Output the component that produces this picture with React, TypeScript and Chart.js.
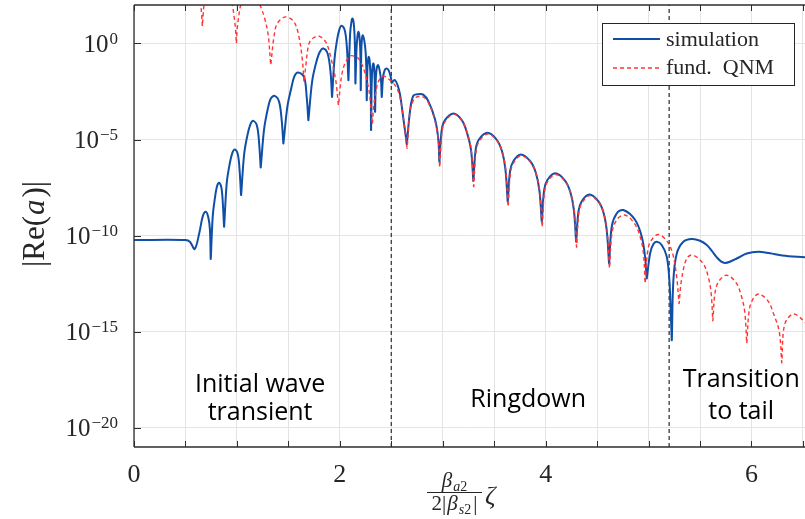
import React, { useEffect, useRef } from 'react';
import { Chart, registerables } from 'chart.js';

Chart.register(...registerables);

// ---------- data (x = scaled coordinate, values stored as log10 |Re(a)|) ----------
const simZeta = [
  0, 0.5, 0.545, 0.59, 0.635, 0.668, 0.697, 0.722, 0.738, 0.745, 0.746,
  0.765, 0.786, 0.806, 0.826, 0.85, 0.865, 0.875, 0.876,
  0.901, 0.928, 0.954, 0.98, 1.01, 1.028, 1.04, 1.041,
  1.07, 1.1, 1.13, 1.16, 1.196, 1.217, 1.231, 1.232,
  1.263, 1.296, 1.328, 1.367, 1.41, 1.435, 1.451, 1.452,
  1.49, 1.523, 1.558, 1.594, 1.652, 1.678, 1.694, 1.695,
  1.73, 1.767, 1.804, 1.84, 1.882, 1.91, 1.924, 1.925,
  1.948, 1.971, 1.995, 2.018, 2.05, 2.07, 2.083, 2.084,
  2.1, 2.112, 2.122, 2.135, 2.146, 2.151, 2.152,
  2.162, 2.171, 2.18, 2.19, 2.199, 2.203, 2.204,
  2.208, 2.214, 2.222, 2.236, 2.25, 2.258, 2.261, 2.262,
  2.268, 2.275, 2.281, 2.29, 2.3, 2.303, 2.304,
  2.31, 2.318, 2.326, 2.334, 2.34, 2.342, 2.343,
  2.35, 2.36, 2.371, 2.385, 2.4, 2.407, 2.408,
  2.42, 2.437, 2.455, 2.475, 2.495, 2.504, 2.505,
  2.52, 2.536, 2.56, 2.585, 2.617, 2.64, 2.65, 2.651,
  2.683, 2.714, 2.76, 2.81, 2.86, 2.925, 2.957, 2.967, 2.968,
  2.99, 3.022, 3.105, 3.185, 3.233, 3.275, 3.297, 3.298,
  3.32, 3.352, 3.434, 3.523, 3.576, 3.609, 3.631, 3.632,
  3.654, 3.686, 3.758, 3.85, 3.905, 3.94, 3.962, 3.963,
  3.985, 4.017, 4.092, 4.184, 4.239, 4.274, 4.296, 4.297,
  4.319, 4.351, 4.425, 4.511, 4.563, 4.594, 4.616, 4.617,
  4.642, 4.69, 4.755, 4.87, 4.934, 4.966, 4.982, 4.983,
  5.015, 5.047, 5.08, 5.128, 5.177, 5.202, 5.216, 5.225, 5.226,
  5.241, 5.274, 5.338, 5.42, 5.5, 5.566, 5.615, 5.663, 5.71, 5.743, 5.79, 5.857,
  5.954, 6.067, 6.18, 6.3, 6.52,
];
const simLog10 = [
  -10.23, -10.23, -10.33, -10.7, -9.85, -9.0, -8.76, -9.05, -9.7, -11.22, -11.22,
  -9.0, -8.05, -7.45, -7.25, -7.53, -8.5, -9.54, -9.54,
  -7.27, -6.32, -5.72, -5.52, -5.8, -6.77, -7.89, -7.89,
  -5.78, -4.83, -4.23, -4.03, -4.31, -5.28, -6.45, -6.45,
  -4.51, -3.5, -2.88, -2.73, -3.04, -3.99, -5.2, -5.2,
  -3.3, -2.45, -1.72, -1.51, -1.74, -2.78, -3.99, -3.99,
  -2.01, -1.06, -0.46, -0.26, -0.54, -1.51, -2.78, -2.78,
  -0.83, 0.12, 0.72, 0.92, 0.64, -0.33, -1.91, -1.91,
  0.5, 1.1, 1.3, 1.05, 0.0, -2.08, -2.08,
  -0.3, 0.35, 0.6, 0.4, -0.4, -2.43, -2.43,
  -0.5, 0.2, 0.43, 0.2, -0.4, -1.4, -2.95, -2.95,
  -1.3, -0.85, -0.7, -0.9, -2.0, -4.51, -4.51,
  -2.0, -1.2, -1.04, -1.3, -2.3, -3.56, -3.56,
  -1.8, -1.25, -1.13, -1.35, -1.9, -2.78, -2.78,
  -1.75, -1.38, -1.3, -1.4, -1.75, -2.05, -2.05,
  -1.95, -1.91, -2.15, -2.65, -3.9, -4.8, -5.24, -5.24,
  -3.47, -2.72, -2.64, -2.66, -3.0, -3.95, -5.0, -6.16, -6.16,
  -4.51, -3.99, -3.64, -3.99, -4.6, -5.55, -7.15, -7.15,
  -5.52, -5.0, -4.65, -5.0, -5.61, -6.55, -8.24, -8.24,
  -6.65, -6.13, -5.78, -6.13, -6.74, -7.68, -9.28, -9.28,
  -7.63, -7.11, -6.76, -7.11, -7.72, -8.66, -10.32, -10.32,
  -8.73, -8.21, -7.86, -8.21, -8.82, -9.76, -11.45, -11.45,
  -9.54, -8.85, -8.67, -9.19, -10.06, -11.1, -12.23, -12.23,
  -10.93, -10.44, -10.32, -10.49, -11.1, -12.32, -14.05, -15.44, -15.44,
  -12.32, -10.93, -10.32, -10.18, -10.27, -10.49, -10.8, -11.13, -11.37, -11.42, -11.36, -11.19,
  -10.93, -10.84, -10.92, -11.03, -11.13,
];

const qnmZeta = [
  0, 0.15, 0.27, 0.31, 0.324, 0.325, 0.338, 0.4, 0.49, 0.59, 0.645, 0.657, 0.664, 0.665,
  0.672, 0.685, 0.74, 0.83, 0.92, 0.955, 0.975, 0.987, 0.994, 0.995,
  1.002, 1.015, 1.037, 1.08, 1.14, 1.19, 1.224, 1.27, 1.305, 1.328, 1.329,
  1.36, 1.393, 1.474, 1.555, 1.603, 1.636, 1.652, 1.653,
  1.668, 1.701, 1.749, 1.798, 1.863, 1.911, 1.96, 1.986, 1.987,
  2.005, 2.02, 2.05, 2.1, 2.14, 2.18, 2.23, 2.277, 2.3, 2.315, 2.316,
  2.33, 2.342, 2.374, 2.423, 2.488, 2.536, 2.569, 2.602, 2.64, 2.653, 2.654,
  2.685, 2.731, 2.8, 2.86, 2.925, 2.958, 2.97, 2.971,
  2.993, 3.025, 3.108, 3.19, 3.237, 3.278, 3.3, 3.301,
  3.324, 3.356, 3.438, 3.527, 3.58, 3.613, 3.635, 3.636,
  3.658, 3.69, 3.762, 3.854, 3.909, 3.944, 3.966, 3.967,
  3.989, 4.021, 4.096, 4.188, 4.243, 4.278, 4.3, 4.301,
  4.323, 4.355, 4.429, 4.515, 4.567, 4.598, 4.62, 4.621,
  4.645, 4.695, 4.77, 4.86, 4.915, 4.95, 4.966, 4.967,
  4.99, 5.02, 5.095, 5.18, 5.235, 5.274, 5.296, 5.297,
  5.32, 5.37, 5.429, 5.53, 5.58, 5.608, 5.624, 5.625,
  5.645, 5.68, 5.76, 5.85, 5.9, 5.935, 5.954, 5.955,
  5.975, 6.005, 6.067, 6.16, 6.22, 6.27, 6.294, 6.295,
  6.31, 6.34, 6.407, 6.47, 6.52,
];
const qnmLog10 = [
  3.6, 4.0, 3.0, 2.25, 1.95, 1.95, 2.3, 3.3, 3.6, 3.1, 2.1, 1.5, 0.9, 0.9,
  1.5, 2.1, 2.9, 3.1, 2.6, 2.0, 1.3, 0.7, 0.0, 0.0,
  0.7, 1.3, 2.0, 2.5, 2.6, 2.35, 2.0, 1.3, 0.4, -1.13, -1.13,
  0.34, 1.04, 1.38, 1.12, 0.34, -0.87, -2.0, -2.0,
  -1.22, 0.0, 0.31, 0.38, 0.08, -0.7, -1.91, -3.21, -3.21,
  -2.2, -1.6, -1.04, -0.66, -0.66, -0.78, -1.3, -2.26, -3.2, -4.2, -4.2,
  -3.2, -2.78, -2.0, -1.7, -1.91, -2.17, -2.52, -3.3, -4.9, -5.45, -5.45,
  -3.45, -2.84, -2.76, -3.08, -4.05, -5.1, -6.45, -6.45,
  -4.6, -4.05, -3.68, -4.04, -4.65, -5.6, -7.45, -7.45,
  -5.6, -5.07, -4.71, -5.06, -5.68, -6.62, -8.5, -8.5,
  -6.72, -6.2, -5.84, -6.19, -6.81, -7.75, -9.55, -9.55,
  -7.7, -7.18, -6.82, -7.17, -7.79, -8.73, -10.6, -10.6,
  -8.8, -8.28, -7.92, -8.27, -8.89, -9.83, -11.7, -11.7,
  -9.85, -9.15, -8.93, -9.35, -10.0, -10.9, -12.49, -12.49,
  -10.85, -10.3, -9.94, -10.3, -10.95, -12.2, -13.53, -13.53,
  -12.3, -11.2, -11.01, -11.45, -12.15, -13.0, -14.43, -14.43,
  -13.0, -12.4, -12.06, -12.45, -13.1, -14.0, -15.61, -15.61,
  -14.0, -13.4, -13.04, -13.4, -14.15, -15.0, -16.62, -16.62,
  -15.0, -14.4, -14.08, -14.25, -14.54,
];

const seriesLabels = ['simulation', 'fund.  QNM'];
const xTickValues = [0, 0.5, 1, 1.5, 2, 2.5, 3, 3.5, 4, 4.5, 5, 5.5, 6, 6.5];
const xTickLabels = ['0', '', '', '', '2', '', '', '', '4', '', '', '', '6', ''];
const yTickExponents = [-20, -15, -10, -5, 0];
const xLimits = [0, 6.52];
const yLimitExponents = [-21, 2];
const regionDividers = [2.5, 5.2];
const regionNotes = [
  { lines: ['Initial wave', 'transient'], x: 1.225, yExp: [-18.14, -19.6] },
  { lines: ['Ringdown'], x: 3.83, yExp: [-18.9] },
  { lines: ['Transition', 'to tail'], x: 5.9, yExp: [-17.9, -19.56] },
];

const BLUE = '#0f4fa8';
const RED = '#ff3535';
const SERIF = '"Liberation Serif", "DejaVu Serif", serif';

type Piece = { t: string; f: string; dy?: number; gap?: number };

function drawPieces(ctx: CanvasRenderingContext2D, pieces: Piece[], centerX: number, baseY: number) {
  let total = 0;
  pieces.forEach((p) => {
    ctx.font = p.f;
    total += ctx.measureText(p.t).width + (p.gap || 0);
  });
  let x = centerX - total / 2;
  ctx.textAlign = 'left';
  pieces.forEach((p) => {
    ctx.font = p.f;
    ctx.fillText(p.t, x, baseY + (p.dy || 0));
    x += ctx.measureText(p.t).width + (p.gap || 0);
  });
  return total;
}

const decorPlugin = {
  id: 'matlabDecor',
  afterDraw(chart: any) {
    const ctx: CanvasRenderingContext2D = chart.ctx;
    const { left, right, top, bottom } = chart.chartArea;
    const xs = chart.scales.x;
    const ys = chart.scales.y;
    ctx.save();

    // axes box (left, top, bottom)
    ctx.strokeStyle = '#2e2e2e';
    ctx.lineWidth = 1.3;
    ctx.setLineDash([]);
    ctx.beginPath();
    ctx.moveTo(left, top);
    ctx.lineTo(right, top);
    ctx.moveTo(left, top);
    ctx.lineTo(left, bottom);
    ctx.moveTo(left, bottom);
    ctx.lineTo(right, bottom);
    ctx.stroke();

    // inward ticks
    ctx.lineWidth = 1;
    ctx.beginPath();
    xTickValues.forEach((v) => {
      const px = Math.round(xs.getPixelForValue(v)) + 0.5;
      ctx.moveTo(px, bottom);
      ctx.lineTo(px, bottom - 6);
      ctx.moveTo(px, top);
      ctx.lineTo(px, top + 6);
    });
    yTickExponents.forEach((e) => {
      const py = Math.round(ys.getPixelForValue(Math.pow(10, e))) + 0.5;
      ctx.moveTo(left, py);
      ctx.lineTo(left + 7, py);
    });
    ctx.stroke();

    // x tick labels
    ctx.fillStyle = '#262626';
    ctx.font = `26px ${SERIF}`;
    ctx.textAlign = 'center';
    ctx.textBaseline = 'alphabetic';
    xTickValues.forEach((v, i) => {
      if (!xTickLabels[i]) return;
      ctx.fillText(xTickLabels[i], xs.getPixelForValue(v), bottom + 35);
    });

    // y tick labels 10^e
    yTickExponents.forEach((e) => {
      const py = ys.getPixelForValue(Math.pow(10, e));
      const expText = e === 0 ? '0' : '\u2212' + String(Math.abs(e));
      ctx.font = `17px ${SERIF}`;
      ctx.textAlign = 'right';
      const rightEdge = 118;
      ctx.fillText(expText, rightEdge, py + 0.5);
      const ew = ctx.measureText(expText).width;
      ctx.font = `25px ${SERIF}`;
      ctx.fillText('10', rightEdge - ew - 1, py + 8.5);
    });

    // y axis title |Re(a)|
    ctx.save();
    ctx.translate(34, 224);
    ctx.rotate(-Math.PI / 2);
    drawPieces(
      ctx,
      [
        { t: '|Re(', f: `31px ${SERIF}`, gap: 1 },
        { t: 'a', f: `italic 31px ${SERIF}`, gap: 2 },
        { t: ')|', f: `31px ${SERIF}` },
      ],
      0,
      10,
    );
    ctx.restore();

    // x axis title: beta_a2 / (2|beta_s2|) zeta
    const barL = 427, barR = 482, barY = 492;
    const barC = (barL + barR) / 2;
    drawPieces(
      ctx,
      [
        { t: '\u03B2', f: `italic 21px ${SERIF}`, gap: 1 },
        { t: 'a', f: `italic 14px ${SERIF}`, dy: 4 },
        { t: '2', f: `14px ${SERIF}`, dy: 4 },
      ],
      barC,
      487,
    );
    ctx.strokeStyle = '#262626';
    ctx.lineWidth = 1;
    ctx.beginPath();
    ctx.moveTo(barL, barY + 0.5);
    ctx.lineTo(barR, barY + 0.5);
    ctx.stroke();
    drawPieces(
      ctx,
      [
        { t: '2|', f: `21px ${SERIF}`, gap: 1 },
        { t: '\u03B2', f: `italic 21px ${SERIF}`, gap: 1 },
        { t: 's', f: `italic 14px ${SERIF}`, dy: 4 },
        { t: '2', f: `14px ${SERIF}`, dy: 4, gap: 2 },
        { t: '|', f: `21px ${SERIF}` },
      ],
      barC,
      510,
    );
    ctx.textAlign = 'left';
    ctx.font = `italic 26px ${SERIF}`;
    ctx.fillText('\u03B6', 485, 504);

    // legend
    const lx = 602.5, ly = 23.5, lw = 192, lh = 62;
    ctx.fillStyle = '#fff';
    ctx.fillRect(lx, ly, lw, lh);
    ctx.strokeStyle = '#262626';
    ctx.lineWidth = 1;
    ctx.strokeRect(lx, ly, lw, lh);
    ctx.lineWidth = 2;
    ctx.strokeStyle = BLUE;
    ctx.beginPath();
    ctx.moveTo(613, 39);
    ctx.lineTo(660, 39);
    ctx.stroke();
    ctx.lineWidth = 1.4;
    ctx.strokeStyle = RED;
    ctx.setLineDash([4, 3]);
    ctx.beginPath();
    ctx.moveTo(613, 68);
    ctx.lineTo(660, 68);
    ctx.stroke();
    ctx.setLineDash([]);
    ctx.fillStyle = '#262626';
    ctx.textAlign = 'left';
    ctx.font = `22px ${SERIF}`;
    ctx.fillText(seriesLabels[0], 666, 45.5);
    ctx.fillText(seriesLabels[1], 666, 74);

    // region notes
    ctx.fillStyle = '#000';
    ctx.font = '25px "Open Sans", sans-serif';
    ctx.textAlign = 'center';
    regionNotes.forEach((n) => {
      const px = xs.getPixelForValue(n.x);
      n.lines.forEach((line, i) => {
        ctx.fillText(line, px, ys.getPixelForValue(Math.pow(10, n.yExp[i])));
      });
    });

    ctx.restore();
  },
};

export default function App() {
  const canvasRef = useRef<HTMLCanvasElement | null>(null);

  useEffect(() => {
    if (!canvasRef.current) return;
    const simPoints = simZeta.map((x, i) => ({ x, y: Math.pow(10, simLog10[i]) }));
    const qnmPoints = qnmZeta.map((x, i) => ({ x, y: Math.pow(10, qnmLog10[i]) }));
    const yMin = Math.pow(10, yLimitExponents[0]);
    const yMax = Math.pow(10, yLimitExponents[1]);
    const dividerSets = regionDividers.map((d) => ({
      label: 'divider',
      data: [
        { x: d, y: yMin },
        { x: d, y: yMax },
      ],
      borderColor: '#3a3a3a',
      borderWidth: 1.3,
      borderDash: [4, 3],
      pointRadius: 0,
      tension: 0,
      order: 2,
    }));

    const chart = new Chart(canvasRef.current, {
      type: 'line',
      data: {
        datasets: [
          {
            label: seriesLabels[1],
            data: qnmPoints,
            borderColor: RED,
            borderWidth: 1.4,
            borderDash: [4, 3],
            pointRadius: 0,
            tension: 0.35,
            order: 0,
          },
          {
            label: seriesLabels[0],
            data: simPoints,
            borderColor: BLUE,
            borderWidth: 2,
            pointRadius: 0,
            tension: 0.35,
            order: 1,
          },
          ...dividerSets,
        ] as any,
      },
      options: {
        animation: false,
        responsive: false,
        devicePixelRatio: 1,
        layout: { padding: { top: 5, right: 0, bottom: 0, left: 0 } },
        elements: { line: { capBezierPoints: false } },
        plugins: { legend: { display: false }, tooltip: { enabled: false } },
        scales: {
          x: {
            type: 'linear',
            min: xLimits[0],
            max: xLimits[1],
            afterBuildTicks: (s: any) => {
              s.ticks = xTickValues.map((v) => ({ value: v }));
            },
            afterFit: (s: any) => {
              s.height = 72;
            },
            ticks: { display: false },
            grid: { color: '#e4e4e4', lineWidth: 1, drawTicks: false },
            border: { display: false },
          },
          y: {
            type: 'logarithmic',
            min: yMin,
            max: yMax,
            afterBuildTicks: (s: any) => {
              s.ticks = yTickExponents.map((e) => ({ value: Math.pow(10, e) }));
            },
            afterFit: (s: any) => {
              s.width = 134;
            },
            ticks: { display: false },
            grid: { color: '#e4e4e4', lineWidth: 1, drawTicks: false },
            border: { display: false },
          },
        },
      } as any,
      plugins: [decorPlugin],
    });
    return () => chart.destroy();
  }, []);

  return (
    <div style={{ position: 'absolute', left: 0, top: 0, width: 805, height: 519, background: '#fff' }}>
      <canvas ref={canvasRef} width={805} height={519} style={{ width: 805, height: 519, display: 'block' }} />
    </div>
  );
}
